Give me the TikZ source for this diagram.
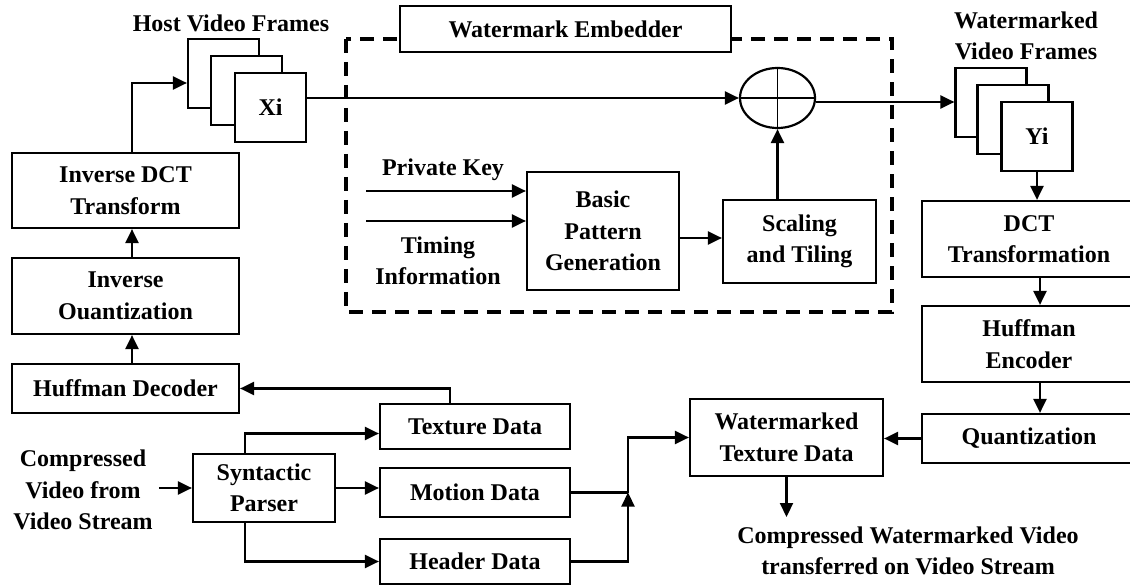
\documentclass[tikz,border=0pt]{standalone}
\usepackage{fontspec}
\setmainfont{Liberation Serif}
\usetikzlibrary{arrows.meta,calc,shapes.geometric}
\begin{document}
\begin{tikzpicture}[x=1pt,y=-1pt,line width=2.2pt,
  font=\bfseries\fontsize{24}{31.5}\selectfont,
  box/.style={draw,line width=2.2pt,align=center,inner sep=0pt,fill=white},
  lbl/.style={align=center,inner sep=0pt},
  frm/.style={draw,fill=white,inner sep=0pt,minimum width=71pt,minimum height=69pt},
  arr/.style={-{Triangle[length=14pt,width=13pt]}},
  emb/.style={draw,line width=3.5pt,dash pattern=on 14pt off 9pt}]
\path[use as bounding box] (0,0) rectangle (1130,585);
\clip (0,0) rectangle (1130,585);
\fill[white] (0,0) rectangle (1130,585);

% embedder frame
\draw[emb] (346,39) rectangle (892,312);
\node[box,minimum width=331pt,minimum height=46pt] (embl) at (565.5,29) {Watermark Embedder};

% left column
\node[box,minimum width=227pt,minimum height=75pt] (idct) at (125.5,190.5) {Inverse DCT\\Transform};
\node[box,minimum width=227pt,minimum height=76pt] (iq) at (125.5,296) {Inverse\\Ouantization};
\node[box,minimum width=227pt,minimum height=49pt] (hd) at (125.5,388.5) {Huffman Decoder};

% host frames
\node[lbl] (htitle) at (231,23) {Host Video Frames};
\node[frm] (hb) at (223.5,73.5) {};
\node[frm] (hm) at (246.5,90.5) {};
\node[frm] (hf) at (270.5,107.5) {Xi};

% adder
\node[draw,ellipse,minimum width=75pt,minimum height=60pt,inner sep=0pt] (plus) at (777.5,98) {};
\draw[line width=1.5pt] (plus.north) -- (plus.south) (plus.west) -- (plus.east);

% watermarked frames
\node[lbl] (wtitle) at (1026,36) {Watermarked\\Video Frames};
\node[frm] (wb) at (991,102.5) {};
\node[frm] (wm) at (1013,119.5) {};
\node[frm] (wf) at (1037,136.5) {Yi};

% embedder inside
\node[lbl] (pk) at (443,170) {Private Key};
\node[lbl] (ti) at (438,261) {Timing\\Information};
\coordinate (pk1) at (366,191);
\coordinate (ti1) at (366,221);
\node[box,minimum width=152pt,minimum height=118pt] (bpg) at (603,231) {Basic\\Pattern\\Generation};
\node[box,minimum width=153pt,minimum height=83pt] (scal) at (799.5,241.5) {Scaling\\and Tiling};

% right column
\node[box,minimum width=214pt,minimum height=76pt] (dct) at (1029,239) {DCT\\Transformation};
\node[box,minimum width=214pt,minimum height=76pt] (he) at (1029,344) {Huffman\\Encoder};
\node[box,minimum width=214pt,minimum height=49pt] (quant) at (1029,438.5) {Quantization};
\node[box,minimum width=193pt,minimum height=77pt] (wtd) at (786.5,437.5) {Watermarked\\Texture Data};
\coordinate (outp) at (786.5,517);
\node[lbl] (outt) at (908,551) {Compressed Watermarked Video\\transferred on Video Stream};

% bottom left
\node[lbl] (inp) at (83,490) {Compressed\\Video from\\Video Stream};
\node[box,minimum width=142pt,minimum height=68pt] (parser) at (264,488) {Syntactic\\Parser};
\node[box,minimum width=190pt,minimum height=45pt] (tex) at (475,426.5) {Texture Data};
\node[box,minimum width=190pt,minimum height=49pt] (mot) at (475,492.5) {Motion Data};
\node[box,minimum width=190pt,minimum height=45pt] (hdr) at (475,561.5) {Header Data};
\coordinate (j) at (628,492.5);

% connectors
\draw[arr] ([xshift=6.5pt]hd.north) -- ([xshift=6.5pt]iq.south);
\draw[arr] ([xshift=6.5pt]iq.north) -- ([xshift=6.5pt]idct.south);
\draw[arr] ([xshift=6.5pt]idct.north) |- ([yshift=-9.5pt]hb.west);
\draw[arr] (plus.west -| hf.east) -- (plus.west);
\draw[arr] ([yshift=-4pt]plus.east) -- ([yshift=-4pt]plus.east -| wb.west);
\draw[arr] (pk1) -- (pk1 -| bpg.west);
\draw[arr] (ti1) -- (ti1 -| bpg.west);
\draw[arr] ([yshift=-7pt]bpg.east) -- ([yshift=-7pt]bpg.east -| scal.west);
\draw[arr] (plus.south |- scal.north) -- (plus.south);
\draw[arr] (wf.south) -- (wf.south |- dct.north);
\draw[arr] ([xshift=11pt]dct.south) -- ([xshift=11pt]he.north);
\draw[arr] ([xshift=11pt]he.south) -- ([xshift=11pt]quant.north);
\draw[arr] (quant.west) -- (quant.west -| wtd.east);
\draw[arr] (wtd.south) -- (outp);
\draw[arr] ([xshift=5pt]inp.east |- parser.west) -- (parser.west);
\draw[arr] ([xshift=-19pt]parser.north) |- ([yshift=-7pt]tex.west);
\draw[arr] (parser.east) -- (parser.east -| mot.west);
\draw[arr] ([xshift=-19pt]parser.south) |- (hdr.west);
\draw[arr] ([xshift=-25pt]tex.north) |- (hd.east);
\draw (mot.east) -- (j);
\draw[arr] (hdr.east) -| (j);
\draw[arr] (j) |- (wtd.west);
\end{tikzpicture}
\end{document}
